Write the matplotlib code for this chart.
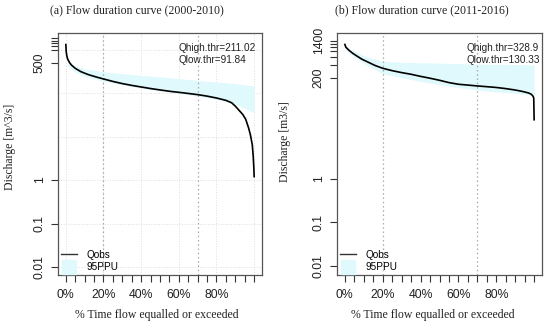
import matplotlib
matplotlib.use('Agg')
import matplotlib.pyplot as plt
from matplotlib.ticker import FixedLocator, NullFormatter
from matplotlib.lines import Line2D

SERIF = 'Liberation Serif'
SANS = 'Liberation Sans'

# ---- data -----------------------------------------------------------------
# (a) 2000-2010
obs_a_x = [0.000, 0.002, 0.005, 0.010, 0.020, 0.030, 0.050, 0.080, 0.120, 0.160,
           0.200, 0.250, 0.300, 0.350, 0.400, 0.450, 0.500, 0.550, 0.600, 0.650,
           0.700, 0.750, 0.800, 0.850, 0.880, 0.900, 0.920, 0.940, 0.955, 0.970,
           0.980, 0.990, 0.995, 0.998, 1.000]
obs_a_q = [1300, 900, 720, 600, 500, 440, 370, 310, 265, 235,
           211, 185, 165, 150, 138, 127, 118, 110, 104, 98,
           92, 85, 77, 68, 60, 50, 40, 32, 25, 16,
           11, 6.5, 3.5, 2.0, 1.2]
ppu_a_x = [0.01, 0.05, 0.10, 0.20, 0.30, 0.40, 0.50, 0.60, 0.70, 0.80, 0.90, 0.95, 1.00]
ppu_a_up = [520, 420, 360, 310, 280, 255, 235, 215, 195, 180, 165, 155, 145]
ppu_a_lo = [420, 300, 240, 185, 155, 130, 112, 98, 85, 72, 55, 45, 35]
thr_a = (211.02, 91.84)

# (b) 2011-2016
obs_b_x = [0.000, 0.005, 0.020, 0.040, 0.060, 0.090, 0.120, 0.160, 0.200, 0.250,
           0.300, 0.350, 0.400, 0.450, 0.500, 0.550, 0.600, 0.650, 0.700, 0.750,
           0.800, 0.850, 0.900, 0.940, 0.970, 0.985, 0.995, 0.998, 1.000]
obs_b_q = [1150, 1000, 860, 730, 640, 530, 460, 380, 329, 290,
           262, 240, 215, 195, 175, 155, 142, 136, 130, 125,
           120, 113, 105, 97, 90, 84, 75, 68, 22]
ppu_b_x = [0.00, 0.05, 0.10, 0.15, 0.20, 0.30, 0.40, 0.50, 0.60, 0.70, 0.80, 0.90, 1.00]
ppu_b_up = [1000, 800, 640, 540, 480, 450, 440, 430, 420, 410, 405, 400, 395]
ppu_b_lo = [900, 600, 420, 320, 250, 200, 165, 140, 120, 105, 95, 88, 80]
thr_b = (328.9, 130.33)

thr_x = [0.2, 0.7]
x_ticks = [i * 0.05 for i in range(21)]
x_labels = ['0%', '', '', '', '20%', '', '', '', '40%', '', '', '', '60%', '', '', '',
            '80%', '', '', '', '']

y_major_a = [0.01, 0.1, 1, 500]
y_minor_a = [1000, 1200, 1400, 1600, 1800]
y_major_b = [0.01, 0.1, 1, 200, 1400]
y_minor_b = [400, 600, 800, 1000, 1200]
grid_y = [0.01, 0.1, 1, 10, 100, 1000]
grid_x = [0.0, 0.2, 0.4, 0.6, 0.8, 1.0]

titles = ['(a) Flow duration curve (2000-2010)', '(b) Flow duration curve (2011-2016)']
ylabels = ['Discharge [m^3/s]', 'Discharge [m3/s]']

BAND = '#e0f9fc'

fig = plt.figure(figsize=(5.5, 3.26), dpi=100)
ax_a = fig.add_axes([58.3 / 550, 51 / 326, 203.4 / 550, 242 / 326])
ax_b = fig.add_axes([337.3 / 550, 51 / 326, 204.4 / 550, 242 / 326])


def draw_panel(ax, ox, oq, px, pup, plo, thr, ymaj, ymin, ylim, grid, txt_x):
    ax.set_yscale('log')
    ax.set_xlim(-0.04, 1.04)
    ax.set_ylim(*ylim)
    if grid:
        for g in grid_y:
            ax.axhline(g, color='#dedede', lw=0.7, ls=':', zorder=0)
        for g in grid_x:
            ax.axvline(g, color='#dedede', lw=0.7, ls=':', zorder=0)
    ax.fill_between(px, plo, pup, color=BAND, lw=0, zorder=1)
    for t in thr_x:
        ax.axvline(t, color='#a8a8a8', lw=0.9, ls=(0, (1.2, 2.2)), zorder=2)
    ax.plot(ox, oq, color='black', lw=1.2, zorder=3)

    ax.text(txt_x, 0.938, f'Qhigh.thr={thr[0]}', transform=ax.transAxes,
            fontsize=7.2, family=SANS, color='#222222', ha='left', va='center')
    ax.text(txt_x, 0.890, f'Qlow.thr={thr[1]}', transform=ax.transAxes,
            fontsize=7.2, family=SANS, color='#222222', ha='left', va='center')

    handles = [Line2D([], [], color='#333333', lw=1.0),
               Line2D([], [], ls='none', marker='s', ms=9.5, mfc=BAND, mec=BAND)]
    ax.legend(handles, ['Qobs', '95PPU'], loc='lower left', frameon=False,
              prop={'family': SANS, 'size': 7.2}, handlelength=1.6,
              handletextpad=0.9, labelspacing=0.25, borderaxespad=0.2,
              borderpad=0.1)

    ax.set_xticks(x_ticks)
    ax.set_xticklabels(x_labels, family=SANS, fontsize=8.8)
    ax.set_yticks(ymaj)
    ax.set_yticklabels([f'{v:g}' for v in ymaj], family=SANS, fontsize=8.8,
                       rotation=90, va='center')
    ax.yaxis.set_minor_locator(FixedLocator(ymin))
    ax.yaxis.set_minor_formatter(NullFormatter())
    ax.tick_params(axis='both', which='both', direction='out', length=5,
                   width=0.8, color='#333333', labelcolor='#222222')
    ax.tick_params(axis='y', pad=4)
    ax.tick_params(axis='x', pad=5)
    for s in ax.spines.values():
        s.set_color('#555555')
        s.set_linewidth(0.9)


draw_panel(ax_a, obs_a_x, obs_a_q, ppu_a_x, ppu_a_up, ppu_a_lo, thr_a,
           y_major_a, y_minor_a, (0.0066, 2400), True, 0.593)
draw_panel(ax_b, obs_b_x, obs_b_q, ppu_b_x, ppu_b_up, ppu_b_lo, thr_b,
           y_major_b, y_minor_b, (0.0063, 2100), False, 0.630)

# titles and axis labels placed like the original composite
fig.text(137 / 550, 1 - 10 / 326, titles[0], family=SERIF, fontsize=8.5,
         ha='center', va='center', color='#222222')
fig.text(421.5 / 550, 1 - 10 / 326, titles[1], family=SERIF, fontsize=8.5,
         ha='center', va='center', color='#222222')
fig.text(10 / 550, 1 - 147 / 326, ylabels[0], family=SERIF, fontsize=8.5,
         rotation=90, ha='center', va='center', color='#222222')
fig.text(285 / 550, 1 - 142 / 326, ylabels[1], family=SERIF, fontsize=8.5,
         rotation=90, ha='center', va='center', color='#222222')
fig.text(157 / 550, 1 - 315 / 326, '% Time flow equalled or exceeded', family=SERIF,
         fontsize=8.5, ha='center', va='center', color='#222222')
fig.text(433 / 550, 1 - 315 / 326, '% Time flow equalled or exceeded', family=SERIF,
         fontsize=8.5, ha='center', va='center', color='#222222')

fig.savefig('out.png', dpi=100)
